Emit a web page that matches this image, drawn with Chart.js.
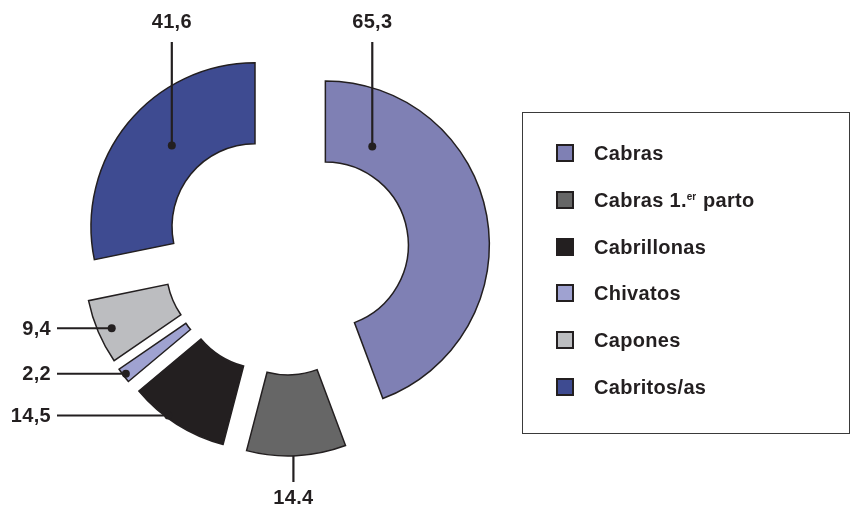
<!DOCTYPE html>
<html>
<head>
<meta charset="utf-8">
<title>Cabras</title>
<script src="https://cdn.jsdelivr.net/npm/chart.js@4.4.1/dist/chart.umd.min.js"></script>
<style>
    body { margin: 0; background: #fff; }
    #wrap { position: relative; width: 851px; height: 506px; overflow: hidden; }
    #chart { position: absolute; left: 0; top: 0; }
    #legendBox {
        position: absolute; left: 522px; top: 112px; width: 328px; height: 322px;
        box-sizing: border-box; border: 1.5px solid #3a3a3a;
    }
    .lg-item {
        position: absolute; left: 556px; height: 20px;
        font: bold 20px "Liberation Sans", Arial, sans-serif; letter-spacing: 0.3px;
        color: #231f20; white-space: nowrap;
    }
    .lg-box {
        position: absolute; left: 0; top: 1px; width: 18px; height: 18px;
        box-sizing: border-box; border: 2px solid #231f20;
    }
    .lg-text { position: absolute; left: 38px; top: 0; line-height: 20px; }
    .lg-text sup { font-size: 10px; letter-spacing: 0; vertical-align: 7px; line-height: 0; margin-right: 1px; }
</style>
</head>
<body>
<div id="wrap">
    <canvas id="chart" width="851" height="506"></canvas>
    <div id="legendBox"></div>
</div>
<script>
// data
var categories = ['Cabras', 'Cabras 1.er parto', 'Cabrillonas', 'Chivatos', 'Capones', 'Cabritos/as'];
var values = [65.3, 14.4, 14.5, 2.2, 9.4, 41.6];
var valueLabels = ['65,3', '14.4', '14,5', '2,2', '9,4', '41,6'];
var colors = ['#7f80b4', '#666666', '#231f20', '#9fa2d1', '#bcbdc0', '#3e4b91'];

// explode distance for every slice, px
var EXPLODE = 40;

// where each leader line sits inside its slice and where its label goes
var leaders = [
    { side: 'top', aFrac: 0.16, rFrac: 0.32, dot: true },
    { side: 'bottom', aFrac: 0.53, rFrac: 1.0, dot: false },
    { side: 'left', aFrac: 0.62, rFrac: 0.97, dot: true },
    { side: 'left', aFrac: 0.5, rFrac: 0.965, dot: true },
    { side: 'left', aFrac: 0.47, rFrac: 0.83, dot: true },
    { side: 'top', aFrac: 0.55, rFrac: 0.41, dot: true }
];

function anchorPoint(arc, aFrac, rFrac) {
    var mid = (arc.startAngle + arc.endAngle) / 2;
    var a = arc.startAngle + (arc.endAngle - arc.startAngle) * aFrac;
    var r = arc.innerRadius + (arc.outerRadius - arc.innerRadius) * rFrac;
    return {
        x: arc.x + Math.cos(mid) * EXPLODE + Math.cos(a) * r,
        y: arc.y + Math.sin(mid) * EXPLODE + Math.sin(a) * r
    };
}

var explodePlugin = {
    id: 'explode',
    beforeDatasetDraw: function (chart, args) {
        var ctx = chart.ctx;
        args.meta.data.forEach(function (arc) {
            var mid = (arc.startAngle + arc.endAngle) / 2;
            ctx.save();
            ctx.translate(Math.cos(mid) * EXPLODE, Math.sin(mid) * EXPLODE);
            arc.draw(ctx, chart.chartArea);
            ctx.restore();
        });
        return false;
    }
};

var leaderPlugin = {
    id: 'leaders',
    afterDatasetsDraw: function (chart) {
        var ctx = chart.ctx;
        var arcs = chart.getDatasetMeta(0).data;
        ctx.save();
        ctx.strokeStyle = '#231f20';
        ctx.fillStyle = '#231f20';
        ctx.lineWidth = 2.2;
        ctx.font = 'bold 20px "Liberation Sans", Arial, sans-serif';
        ctx.letterSpacing = '0.3px';
        arcs.forEach(function (arc, i) {
            var cfg = leaders[i];
            var p = anchorPoint(arc, cfg.aFrac, cfg.rFrac);
            ctx.beginPath();
            if (cfg.side === 'top') {
                ctx.moveTo(p.x, p.y);
                ctx.lineTo(p.x, 42);
                ctx.stroke();
                ctx.textAlign = 'center';
                ctx.textBaseline = 'middle';
                ctx.fillText(valueLabels[i], p.x, 22);
            } else if (cfg.side === 'bottom') {
                ctx.moveTo(p.x, p.y);
                ctx.lineTo(p.x, 482);
                ctx.stroke();
                ctx.textAlign = 'center';
                ctx.textBaseline = 'middle';
                ctx.fillText(valueLabels[i], p.x, 498);
            } else {
                ctx.moveTo(p.x, p.y);
                ctx.lineTo(57, p.y);
                ctx.stroke();
                ctx.textAlign = 'right';
                ctx.textBaseline = 'middle';
                ctx.fillText(valueLabels[i], 51, p.y + 1);
            }
            if (cfg.dot) {
                ctx.beginPath();
                ctx.arc(p.x, p.y, 4, 0, Math.PI * 2);
                ctx.fill();
            }
        });
        ctx.restore();
    }
};

new Chart(document.getElementById('chart'), {
    type: 'doughnut',
    data: {
        labels: categories,
        datasets: [
            {
                data: values,
                backgroundColor: colors,
                borderColor: '#231f20',
                borderWidth: 1.5,
                borderJoinStyle: 'miter'
            }
        ]
    },
    options: {
        responsive: false,
        animation: false,
        radius: 164,
        cutout: '50.6%',
        layout: {
            padding: { left: 0, top: 0, right: 279, bottom: 2 }
        },
        plugins: {
            legend: { display: false },
            tooltip: { enabled: false }
        }
    },
    plugins: [explodePlugin, leaderPlugin]
});

// legend, built from the same arrays
var wrap = document.getElementById('wrap');
categories.forEach(function (name, i) {
    var item = document.createElement('div');
    item.className = 'lg-item';
    item.style.top = (143 + i * 46.8) + 'px';
    var box = document.createElement('div');
    box.className = 'lg-box';
    box.style.background = colors[i];
    var text = document.createElement('div');
    text.className = 'lg-text';
    var parts = name.split('.er');
    if (parts.length === 2) {
        text.innerHTML = parts[0] + '.<sup>er</sup>' + parts[1];
    } else {
        text.textContent = name;
    }
    item.appendChild(box);
    item.appendChild(text);
    wrap.appendChild(item);
});
</script>
</body>
</html>
